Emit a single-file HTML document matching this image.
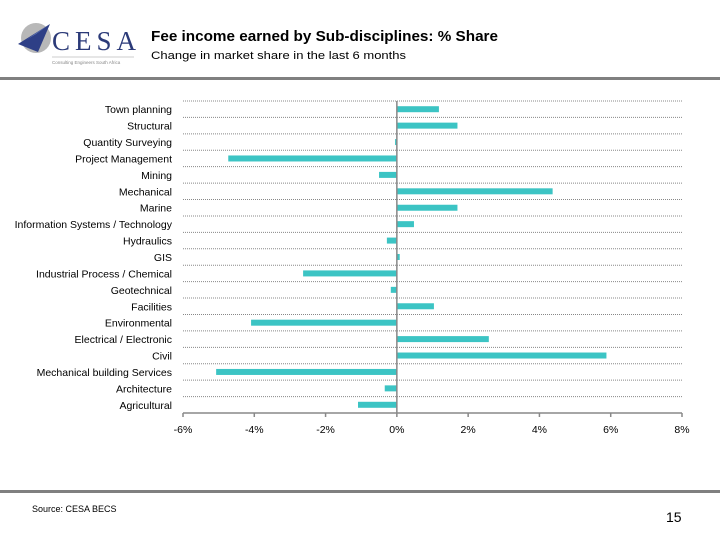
<!DOCTYPE html>
<html><head><meta charset="utf-8"><style>
body{margin:0;width:720px;height:540px;background:#fff;font-family:"Liberation Sans",sans-serif;position:relative;overflow:hidden}
</style></head><body>
<svg width="720" height="540" style="position:absolute;left:0;top:0">
<g>
<circle cx="36" cy="38" r="15" fill="#b8b8b8"/>
<polygon points="18,44 50,24 38,52" fill="#2e3f86"/>
<polygon points="26,40 50,24 36,34" fill="#6d86c2"/>
<text x="52" y="50" font-family="Liberation Serif" font-size="27" fill="#2b3a78" letter-spacing="5">CESA</text>
<line x1="52" y1="57" x2="134" y2="57" stroke="#999" stroke-width="0.6"/>
<text x="52" y="64" font-size="4.5" fill="#888">Consulting Engineers South Africa</text>
</g>
<text x="151" y="41" font-size="14.5" font-weight="bold" fill="#000" textLength="347" lengthAdjust="spacingAndGlyphs">Fee income earned by Sub-disciplines: % Share</text>
<text x="151" y="59" font-size="11" fill="#000" textLength="255" lengthAdjust="spacingAndGlyphs">Change in market share in the last 6 months</text>
<rect x="0" y="77" width="720" height="3" fill="#808080"/>
<g id="chart"></g>
<rect x="0" y="490" width="720" height="3" fill="#808080"/>
<text x="32" y="512" font-size="9" fill="#000">Source: CESA BECS</text>
<text x="666" y="522" font-size="14" fill="#000">15</text>
</svg>
<script>
const categories=["Town planning","Structural","Quantity Surveying","Project Management","Mining","Mechanical","Marine","Information Systems / Technology","Hydraulics","GIS","Industrial Process / Chemical","Geotechnical","Facilities","Environmental","Electrical / Electronic","Civil","Mechanical building Services","Architecture","Agricultural"];
const values=[1.18,1.7,-0.05,-4.73,-0.5,4.37,1.7,0.48,-0.28,0.08,-2.63,-0.17,1.04,-4.09,2.58,5.88,-5.07,-0.34,-1.09];
const ticks=[-6,-4,-2,0,2,4,6,8];
const NS="http://www.w3.org/2000/svg";
const chartG=document.getElementById('chart');
const x0=183,x1=682,yTop=101,yBottom=413;
const xs=v=>x0+(v-ticks[0])/(ticks[ticks.length-1]-ticks[0])*(x1-x0);
const rowH=(yBottom-yTop)/categories.length;
function mk(t,a){const e=document.createElementNS(NS,t);for(const k in a)e.setAttribute(k,a[k]);chartG.appendChild(e);return e;}
categories.forEach((c,i)=>{
  const gl=mk('line',{x1:x0,x2:x1,y1:yTop+i*rowH,y2:yTop+i*rowH,stroke:'#888','stroke-width':1,'stroke-dasharray':'1,1'});
  
  
  const cy=yTop+(i+0.5)*rowH;
  const lb=mk('text',{x:172,y:cy+4,'text-anchor':'end','font-size':10.5,fill:'#000'});
  lb.textContent=c;
  
  
  const v=values[i];
  const a=xs(0),b=xs(v);
  const r=mk('rect',{x:Math.min(a,b),y:cy-3,width:Math.max(Math.abs(b-a),1),height:6,fill:'#3cc4c4'});
  
  
});
const ax=mk('line',{x1:x0,x2:x1,y1:yBottom,y2:yBottom,stroke:'#888','stroke-width':1.5});


const za=mk('line',{x1:xs(0),x2:xs(0),y1:yTop,y2:yBottom,stroke:'#888','stroke-width':1.5});


ticks.forEach(t=>{
  const tk=mk('line',{x1:xs(t),x2:xs(t),y1:yBottom,y2:yBottom+4,stroke:'#888','stroke-width':1.5});
  
  
  const tl=mk('text',{x:xs(t),y:yBottom+20,'text-anchor':'middle','font-size':10.5,fill:'#000'});
  tl.textContent=t+'%';
  
  
});
</script>
</body></html>
